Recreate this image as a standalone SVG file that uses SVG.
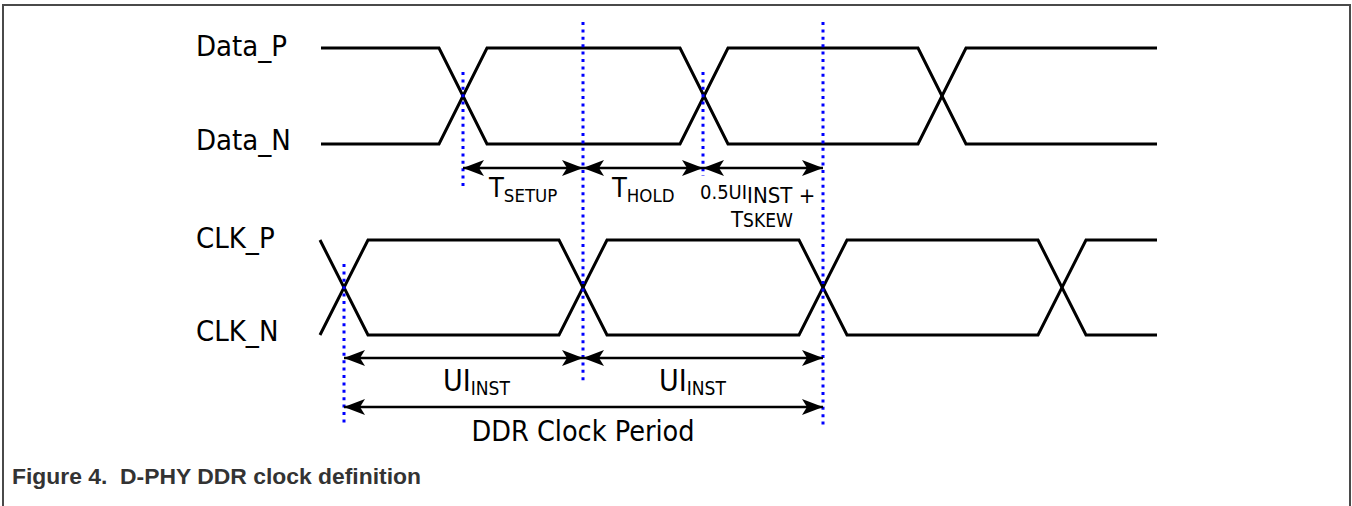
<svg xmlns="http://www.w3.org/2000/svg" width="1352" height="506" viewBox="0 0 1352 506">
  <style>
    .sig { fill: none; stroke: #000; stroke-width: 3; stroke-linejoin: miter; }
    .dot { stroke: #0000ff; stroke-width: 3; stroke-dasharray: 3 4.4; fill: none; }
    .arr { stroke: #000; stroke-width: 2.6; fill: none; marker-start: url(#ah); marker-end: url(#ah); }
    .lbl { font-family: "DejaVu Sans Condensed", "DejaVu Sans", sans-serif; fill: #000; }
    .cap { font-family: "Liberation Sans", Arial, sans-serif; font-weight: bold; fill: #333; }
  </style>
  <defs>
    <marker id="ah" markerUnits="userSpaceOnUse" viewBox="-22 -9 24 18" markerWidth="24" markerHeight="18" refX="0" refY="0" orient="auto-start-reverse">
      <path d="M0,0 L-21,-8 L-16,0 L-21,8 Z" fill="#000"/>
    </marker>
  </defs>
  <rect x="3" y="5" width="1347" height="520" fill="#fff" stroke="#4a4a4a" stroke-width="2"/>

  <g id="data-p-label"><text class="lbl" x="196" y="56" font-size="29">Data_P</text></g>
  <g id="data-n-label"><text class="lbl" x="196" y="150" font-size="29">Data_N</text></g>
  <g id="clk-p-label"><text class="lbl" x="196" y="248" font-size="29">CLK_P</text></g>
  <g id="clk-n-label"><text class="lbl" x="196" y="341" font-size="29">CLK_N</text></g>

  <g id="data-waves">
    <path class="sig" d="M321,48 H439 L487,144 H680 L728,48 H918 L966,144 H1157"/>
    <path class="sig" d="M321,144 H439 L487,48 H680 L728,144 H918 L966,48 H1157"/>
  </g>
  <g id="clk-waves">
    <path class="sig" d="M320,240 L368,335 H559 L607,240 H799 L847,335 H1038 L1086,240 H1157"/>
    <path class="sig" d="M320,335 L368,240 H559 L607,335 H799 L847,240 H1038 L1086,335 H1157"/>
  </g>

  <g id="markers">
    <line class="dot" x1="463" y1="72" x2="463" y2="190"/>
    <line class="dot" x1="583" y1="22" x2="583" y2="381"/>
    <line class="dot" x1="703" y1="72" x2="703" y2="176"/>
    <line class="dot" x1="823" y1="22" x2="823" y2="426"/>
    <line class="dot" x1="344" y1="264" x2="344" y2="426"/>
  </g>

  <g id="connectors">
    <line class="arr" x1="463" y1="168" x2="583" y2="168"/>
    <line class="arr" x1="583" y1="168" x2="703" y2="168"/>
    <line class="arr" x1="703" y1="168" x2="823" y2="168"/>
    <line class="arr" x1="344" y1="358" x2="583" y2="358"/>
    <line class="arr" x1="583" y1="358" x2="823" y2="358"/>
    <line class="arr" x1="344" y1="407" x2="823" y2="407"/>
  </g>

  <g id="tsetup"><text class="lbl" x="489" y="197" font-size="27">T<tspan font-size="18.5" dy="5">SETUP</tspan></text></g>
  <g id="thold"><text class="lbl" x="612" y="197" font-size="27">T<tspan font-size="18.5" dy="5">HOLD</tspan></text></g>
  <g id="skew">
    <text class="lbl" x="700" y="199" font-size="20">0.5UI<tspan font-size="22" dy="4">INST +</tspan></text>
    <text class="lbl" x="731" y="227" font-size="22">T<tspan font-size="19">SKEW</tspan></text>
  </g>
  <g id="ui1"><text class="lbl" x="443" y="391" font-size="30">UI<tspan font-size="19" dy="4">INST</tspan></text></g>
  <g id="ui2"><text class="lbl" x="659" y="391" font-size="30">UI<tspan font-size="19" dy="4">INST</tspan></text></g>
  <g id="ddr"><text class="lbl" x="583" y="441" font-size="28.5" text-anchor="middle">DDR Clock Period</text></g>

  <text class="cap" x="12" y="484" font-size="21.5" xml:space="preserve" textLength="409" lengthAdjust="spacingAndGlyphs">Figure 4.  D-PHY DDR clock definition</text>
</svg>
